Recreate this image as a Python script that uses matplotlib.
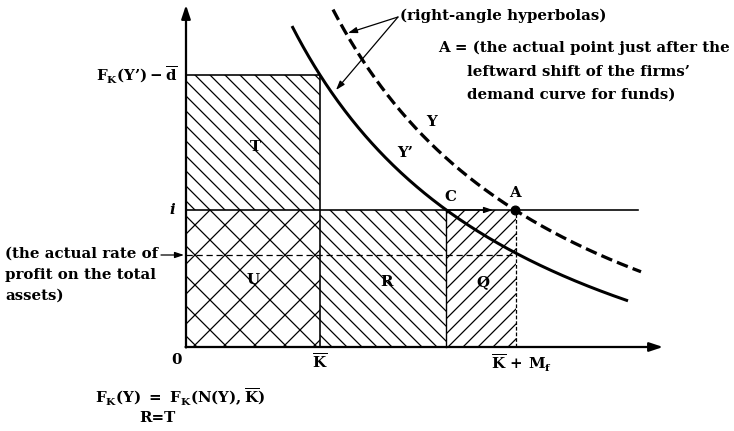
import numpy as np
import matplotlib
matplotlib.use("Agg")
import matplotlib.pyplot as plt
from matplotlib.patches import Rectangle

plt.rcParams['font.family'] = 'DejaVu Serif'
plt.rcParams['font.weight'] = 'bold'
plt.rcParams['mathtext.fontset'] = 'custom'
plt.rcParams['mathtext.rm'] = 'DejaVu Serif:bold'
plt.rcParams['mathtext.it'] = 'DejaVu Serif:italic:bold'
plt.rcParams['mathtext.bf'] = 'DejaVu Serif:bold'
plt.rcParams['hatch.linewidth'] = 1.0

# positions on the axes (origin at 0)
k_bar = 134          # K-bar
k_plus_mf = 330      # K-bar + M_f
rate_i = 137         # i
rate_profit = 92     # actual rate of profit on total assets
fk_level = 272       # F_K(Y') - d-bar
a_point_x = 329      # A on the i line
i_line_end = 452
x_axis_end = 477
y_axis_end = 342

# right-angle hyperbolas (x - x0)(y - y0) = c
y_prime_center = (-136.7, -152.3)
y_prime_span = (106, 442)
y_center = (-100.0, -135.0)
y_span = (147, 455)


def hyperbola(center, through, span):
    x0, y0 = center
    c = (through[0] - x0) * (through[1] - y0)
    x = np.linspace(span[0], span[1], 300)
    return x, c / (x - x0) + y0, c


fig = plt.figure(figsize=(734 / 90, 431 / 90), dpi=90)
ax = fig.add_axes([0, 0, 1, 1])
ax.set_xlim(-186, 548)
ax.set_ylim(-84, 347)
ax.axis('off')

# Y' goes through the corner of T, Y goes through A
xs, ys, c_solid = hyperbola(y_prime_center, (k_bar, fk_level), y_prime_span)
xd, yd, c_dash = hyperbola(y_center, (a_point_x, rate_i), y_span)
c_x = c_solid / (rate_i - y_prime_center[1]) + y_prime_center[0]

# hatched areas
ax.add_patch(Rectangle((0, rate_i), k_bar, fk_level - rate_i, hatch='\\\\',
                       fill=False, edgecolor='k', lw=0))
ax.add_patch(Rectangle((0, 0), k_bar, rate_i, hatch='x',
                       fill=False, edgecolor='k', lw=0))
ax.add_patch(Rectangle((k_bar, 0), c_x - k_bar, rate_i, hatch='\\\\',
                       fill=False, edgecolor='k', lw=0))
ax.add_patch(Rectangle((c_x, 0), k_plus_mf - c_x, rate_i, hatch='//',
                       fill=False, edgecolor='k', lw=0))

# box edges and levels
ax.plot([0, k_bar], [fk_level, fk_level], color='k', lw=1.3)
ax.plot([k_bar, k_bar], [0, fk_level], color='k', lw=1.3)
ax.plot([0, i_line_end], [rate_i, rate_i], color='k', lw=1.3)
ax.plot([c_x, c_x], [0, rate_i], color='k', lw=1.1)
ax.plot([k_plus_mf, k_plus_mf], [0, rate_i], color='k', lw=1.0,
        ls=(0, (3, 1.5)))
ax.plot([0, k_plus_mf], [rate_profit, rate_profit], color='k', lw=1.0,
        ls=(0, (5, 3)))

# axes with arrow heads
axis_arrow = dict(arrowstyle='-|>,head_length=0.9,head_width=0.3', lw=1.8,
                  color='k', shrinkA=0, shrinkB=0)
ax.annotate('', xy=(0, y_axis_end), xytext=(0, -0.5), arrowprops=axis_arrow)
ax.annotate('', xy=(x_axis_end, 0), xytext=(-0.5, 0), arrowprops=axis_arrow)

# hyperbolas
ax.plot(xs, ys, color='k', lw=2.4, solid_capstyle='butt')
ax.plot(xd, yd, color='k', lw=2.6, dashes=(3.6, 1.6))
ax.plot(a_point_x, rate_i, 'o', color='k', ms=7)

# shift from C towards A
ax.annotate('', xy=(307, rate_i), xytext=(c_x, rate_i),
            arrowprops=dict(arrowstyle='-|>,head_length=0.6,head_width=0.2',
                            lw=1.0, color='k', shrinkA=0, shrinkB=0))

# callouts to the hyperbolas
thin = dict(arrowstyle='-|>,head_length=0.6,head_width=0.2', lw=1.0,
            color='k', shrinkA=0, shrinkB=0)
ax.annotate('', xy=(162, 314), xytext=(212, 330), arrowprops=thin)
ax.annotate('', xy=(150, 257), xytext=(212, 330), arrowprops=thin)
ax.annotate('', xy=(-2, rate_profit), xytext=(-25, rate_profit),
            arrowprops=thin)

fs = 12
ax.text(214, 331, '(right-angle hyperbolas)', fontsize=fs, va='center')
ax.text(252, 299, 'A = (the actual point just after the', fontsize=fs,
        va='center')
ax.text(281, 275, 'leftward shift of the firms’', fontsize=fs, va='center')
ax.text(281, 252, 'demand curve for funds)', fontsize=fs, va='center')

ax.text(246, 225, 'Y', fontsize=fs, ha='center', va='center')
ax.text(219, 194, 'Y’', fontsize=fs, ha='center', va='center')
ax.text(264, 150, 'C', fontsize=fs, ha='center', va='center')
ax.text(329, 154, 'A', fontsize=fs, ha='center', va='center')
ax.text(69, 200, 'T', fontsize=fs, ha='center', va='center')
ax.text(67, 67, 'U', fontsize=fs, ha='center', va='center')
ax.text(201, 65, 'R', fontsize=fs, ha='center', va='center')
ax.text(297, 65, 'Q', fontsize=fs, ha='center', va='center')

ax.text(-9, -13, '0', fontsize=fs, ha='center', va='center')
ax.text(k_bar, -15, r'$\overline{\mathrm{K}}$', fontsize=fs, ha='center',
        va='center')
ax.text(k_plus_mf + 6, -16, r'$\overline{\mathrm{K}}\,+\,\mathrm{M_f}$',
        fontsize=fs, ha='center', va='center')
ax.text(-13, rate_i, r'$\mathit{i}$', fontsize=fs, ha='center', va='center')
ax.text(-8, fk_level, r'$\mathrm{F_K(Y’)}-\overline{\mathrm{d}}$',
        fontsize=fs, ha='right', va='center')

ax.text(-181, 93, '(the actual rate of', fontsize=fs, va='center')
ax.text(-181, 72, 'profit on the total', fontsize=fs, va='center')
ax.text(-181, 51, 'assets)', fontsize=fs, va='center')

ax.text(-6, -50,
        r'$\mathrm{F_K(Y)\ =\ F_K(N(Y),}\overline{\mathrm{K}}\mathrm{)}$',
        fontsize=fs, ha='center', va='center')
ax.text(-29, -71, 'R=T', fontsize=fs, ha='center', va='center')

fig.savefig('out.png', dpi=90)
